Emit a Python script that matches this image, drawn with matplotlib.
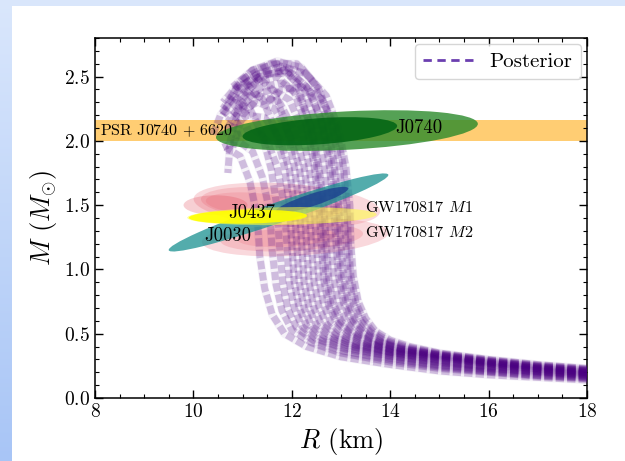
import numpy as np
import matplotlib
matplotlib.use("Agg")
import matplotlib.pyplot as plt
from matplotlib.patches import Ellipse, Rectangle
from matplotlib.lines import Line2D
from matplotlib.transforms import Affine2D
from matplotlib.ticker import MultipleLocator

# ---------------------------------------------------------------- data
# posterior M-R curves (R in km, M in Msun),
# each one starts at the low-mass tail (R = 18 km)
post_R = [
    [18.0, 17.0, 16.0, 15.0, 14.4, 14.0, 13.7, 13.5, 13.35, 13.25, 13.2, 13.18, 13.1, 12.95, 12.7, 12.3, 11.8, 11.3, 10.9],
    [18.0, 17.0, 16.0, 15.0, 14.35, 13.95, 13.65, 13.45, 13.3, 13.2, 13.15, 13.12, 13.05, 12.9, 12.6, 12.2, 11.8, 11.5],
    [18.0, 17.0, 16.0, 15.0, 14.3, 13.9, 13.6, 13.4, 13.25, 13.15, 13.1, 13.05, 12.95, 12.8, 12.55, 12.2, 11.7, 11.2, 10.8],
    [18.0, 17.0, 16.0, 15.0, 14.25, 13.8, 13.5, 13.3, 13.15, 13.05, 13.0, 12.95, 12.85, 12.7, 12.45, 12.1, 11.6, 11.0, 10.6],
    [18.0, 17.0, 16.0, 15.0, 14.2, 13.75, 13.45, 13.25, 13.1, 13.0, 12.95, 12.9, 12.8, 12.6, 12.3, 11.9, 11.4, 10.9, 10.55, 10.4],
    [18.0, 17.0, 16.0, 15.0, 14.2, 13.7, 13.4, 13.2, 13.05, 12.95, 12.9, 12.85, 12.75, 12.6, 12.35, 12.0, 11.5, 11.1],
    [18.0, 17.0, 16.0, 15.0, 14.15, 13.65, 13.3, 13.1, 12.95, 12.85, 12.8, 12.75, 12.65, 12.5, 12.25, 11.85, 11.35, 10.95, 10.75, 10.7],
    [18.0, 17.0, 16.0, 15.0, 14.1, 13.6, 13.25, 13.0, 12.85, 12.75, 12.7, 12.65, 12.55, 12.4, 12.15, 11.8, 11.4, 11.0, 10.7],
    [18.0, 17.0, 16.0, 15.0, 14.1, 13.55, 13.2, 12.95, 12.8, 12.7, 12.65, 12.6, 12.5, 12.35, 12.1, 11.7, 11.2, 10.85, 10.6],
    [18.0, 17.0, 16.0, 15.0, 14.05, 13.5, 13.15, 12.9, 12.75, 12.65, 12.6, 12.55, 12.45, 12.3, 12.05, 11.7, 11.3, 10.9],
    [18.0, 17.0, 16.0, 15.0, 14.0, 13.4, 13.05, 12.8, 12.65, 12.55, 12.5, 12.45, 12.35, 12.2, 11.95, 11.6, 11.2, 10.8],
    [18.0, 17.0, 16.0, 15.0, 14.0, 13.35, 12.95, 12.7, 12.55, 12.45, 12.4, 12.35, 12.25, 12.05, 11.75, 11.35, 11.0, 10.8],
    [18.0, 17.0, 16.0, 15.0, 14.0, 13.3, 12.9, 12.6, 12.45, 12.35, 12.3, 12.25, 12.15, 11.95, 11.65, 11.3, 10.9, 10.6],
    [18.0, 17.0, 16.0, 15.0, 14.0, 13.25, 12.8, 12.5, 12.35, 12.25, 12.2, 12.15, 12.05, 11.9, 11.65, 11.3, 10.9, 10.6],
    [18.0, 17.0, 16.0, 15.0, 14.0, 13.2, 12.7, 12.4, 12.25, 12.15, 12.1, 12.05, 11.95, 11.75, 11.45, 11.1, 10.75],
    [18.0, 17.0, 16.0, 15.0, 14.0, 13.15, 12.6, 12.3, 12.15, 12.05, 12.0, 11.95, 11.85, 11.65, 11.4, 11.1, 10.8],
    [18.0, 17.0, 16.0, 15.0, 14.0, 13.1, 12.5, 12.2, 12.05, 11.95, 11.9, 11.85, 11.7, 11.5, 11.2, 10.9],
    [18.0, 17.0, 16.0, 15.0, 14.0, 13.05, 12.45, 12.1, 11.92, 11.82, 11.75, 11.7, 11.58, 11.4, 11.15, 10.85, 10.6],
    [18.0, 17.0, 16.0, 15.0, 14.0, 13.0, 12.4, 12.0, 11.8, 11.68, 11.6, 11.55, 11.4, 11.2, 10.9, 10.6],
    [18.0, 17.0, 16.0, 15.0, 14.0, 13.0, 12.3, 11.85, 11.6, 11.45, 11.35, 11.3, 11.15, 10.95, 10.65],
]
post_M = [
    [0.23, 0.26, 0.30, 0.35, 0.40, 0.45, 0.52, 0.62, 0.75, 0.95, 1.2, 1.5, 1.8, 2.1, 2.35, 2.52, 2.58, 2.52, 2.4],
    [0.225, 0.255, 0.295, 0.345, 0.395, 0.445, 0.515, 0.61, 0.745, 0.95, 1.2, 1.5, 1.8, 2.1, 2.33, 2.42, 2.4, 2.3],
    [0.22, 0.25, 0.29, 0.34, 0.39, 0.44, 0.51, 0.60, 0.74, 0.95, 1.2, 1.5, 1.85, 2.15, 2.4, 2.57, 2.62, 2.55, 2.42],
    [0.215, 0.245, 0.285, 0.335, 0.385, 0.44, 0.51, 0.60, 0.74, 0.95, 1.2, 1.5, 1.85, 2.18, 2.45, 2.6, 2.6, 2.48, 2.3],
    [0.212, 0.242, 0.282, 0.332, 0.383, 0.44, 0.51, 0.60, 0.74, 0.95, 1.2, 1.5, 1.85, 2.17, 2.42, 2.55, 2.52, 2.38, 2.2, 2.05],
    [0.21, 0.24, 0.28, 0.33, 0.38, 0.44, 0.51, 0.60, 0.74, 0.95, 1.2, 1.5, 1.85, 2.15, 2.4, 2.53, 2.52, 2.42],
    [0.205, 0.235, 0.275, 0.325, 0.375, 0.435, 0.505, 0.60, 0.735, 0.94, 1.2, 1.5, 1.83, 2.13, 2.4, 2.55, 2.5, 2.3, 2.0, 1.75],
    [0.20, 0.23, 0.27, 0.32, 0.37, 0.43, 0.50, 0.60, 0.73, 0.93, 1.2, 1.5, 1.8, 2.1, 2.35, 2.45, 2.42, 2.3, 2.15],
    [0.198, 0.228, 0.268, 0.315, 0.368, 0.428, 0.498, 0.592, 0.725, 0.925, 1.2, 1.5, 1.83, 2.15, 2.45, 2.6, 2.55, 2.4, 2.2],
    [0.195, 0.225, 0.265, 0.31, 0.365, 0.425, 0.495, 0.59, 0.72, 0.92, 1.2, 1.5, 1.82, 2.12, 2.38, 2.5, 2.46, 2.32],
    [0.19, 0.22, 0.26, 0.30, 0.36, 0.42, 0.49, 0.58, 0.72, 0.92, 1.2, 1.5, 1.8, 2.1, 2.32, 2.4, 2.35, 2.2],
    [0.185, 0.215, 0.25, 0.295, 0.355, 0.415, 0.485, 0.575, 0.71, 0.91, 1.2, 1.5, 1.8, 2.08, 2.3, 2.35, 2.2, 1.95],
    [0.18, 0.21, 0.24, 0.29, 0.35, 0.41, 0.48, 0.57, 0.70, 0.90, 1.2, 1.5, 1.8, 2.05, 2.25, 2.3, 2.22, 2.05],
    [0.175, 0.205, 0.235, 0.28, 0.34, 0.405, 0.475, 0.565, 0.70, 0.90, 1.2, 1.5, 1.8, 2.1, 2.38, 2.5, 2.42, 2.25],
    [0.17, 0.20, 0.23, 0.27, 0.33, 0.40, 0.47, 0.56, 0.70, 0.90, 1.2, 1.5, 1.78, 2.02, 2.18, 2.2, 2.1],
    [0.165, 0.19, 0.22, 0.26, 0.32, 0.39, 0.465, 0.56, 0.70, 0.90, 1.2, 1.5, 1.8, 2.1, 2.33, 2.4, 2.3],
    [0.16, 0.18, 0.21, 0.25, 0.31, 0.38, 0.46, 0.56, 0.70, 0.90, 1.2, 1.5, 1.8, 2.0, 2.1, 2.05],
    [0.155, 0.175, 0.205, 0.24, 0.295, 0.365, 0.445, 0.545, 0.69, 0.89, 1.18, 1.48, 1.78, 2.05, 2.25, 2.3, 2.2],
    [0.15, 0.17, 0.20, 0.23, 0.28, 0.35, 0.43, 0.53, 0.68, 0.88, 1.15, 1.45, 1.72, 1.92, 2.0, 1.95],
    [0.14, 0.16, 0.18, 0.21, 0.26, 0.32, 0.40, 0.50, 0.65, 0.85, 1.1, 1.4, 1.68, 1.88, 1.95],
]

# PSR J0740+6620 mass band
psr_band = [2.0, 2.16]

# credible regions drawn as ellipses: centre R, centre M,
# long axis (km), short axis (km-equivalent on screen), tilt (deg on screen)
j0740_R = [13.12, 12.57]
j0740_M = [2.08, 2.075]
j0740_w = [5.33, 3.15]
j0740_h = [0.78, 0.53]
j0740_ang = [3.0, 4.0]

gw1_R = [11.9, 11.6, 11.2]
gw1_M = [1.50, 1.51, 1.51]
gw1_w = [3.8, 2.9, 1.9]
gw1_h = [0.88, 0.66, 0.45]
gw1_ang = [-4.0, -4.0, -4.0]

gw2_R = [12.07, 12.0, 11.9]
gw2_M = [1.25, 1.25, 1.25]
gw2_w = [3.8, 2.9, 2.0]
gw2_h = [0.75, 0.56, 0.38]
gw2_ang = [3.0, 3.0, 3.0]

j0030_R = [11.73, 12.41]
j0030_M = [1.443, 1.54]
j0030_w = [4.72, 1.55]
j0030_h = [0.42, 0.25]
j0030_ang = [19.0, 18.0]

j0437_R = [11.8, 11.11]
j0437_M = [1.415, 1.41]
j0437_w = [3.85, 2.4]
j0437_h = [0.36, 0.28]
j0437_ang = [1.0, 1.0]

# ---------------------------------------------------------------- style
plt.rcParams.update({
    "font.family": "cmr10",
    "mathtext.fontset": "cm",
    "axes.formatter.use_mathtext": True,
    "axes.unicode_minus": False,
})

fig = plt.figure(figsize=(6.25, 4.61), dpi=100)

# light blue slide frame behind the plot
bg = fig.add_axes([0, 0, 1, 1], zorder=-10)
grad = np.linspace(0, 1, 256)[:, None]
bg.imshow(grad, extent=[0, 1, 0, 1], aspect="auto",
          cmap=matplotlib.colors.LinearSegmentedColormap.from_list(
              "frame", ["#dae7fc", "#a8c5f6"]))
bg.add_patch(Rectangle((12 / 625, 0), 1, 1 - 6 / 461, color="white", lw=0))
bg.set_xlim(0, 1)
bg.set_ylim(0, 1)
bg.axis("off")

ax = fig.add_axes([95 / 625, 63 / 461, 492 / 625, 360 / 461])
ax.set_xlim(8, 18)
ax.set_ylim(0, 2.8)

# screen aspect so that ellipse tilts are screen angles
pos = ax.get_position()
k = (pos.height * 461 / 2.8) / (pos.width * 625 / 10.0)
tr = Affine2D().scale(1, 1 / k) + ax.transData


def ellipses(Rs, Ms, ws, hs, angs, color, alpha, z):
    for R, M, w, h, a in zip(Rs, Ms, ws, hs, angs):
        ax.add_patch(Ellipse((R, M * k), w, h, angle=a, transform=tr,
                             facecolor=color, edgecolor="none",
                             alpha=alpha, zorder=z))


ax.axhspan(psr_band[0], psr_band[1], color="orange", alpha=0.55, lw=0, zorder=1)

ellipses(gw1_R, gw1_M, gw1_w, gw1_h, gw1_ang, "#ee7f8c", 0.3, 2)
ellipses(gw2_R, gw2_M, gw2_w, gw2_h, gw2_ang, "#ee7f8c", 0.3, 2)
ax.add_patch(Ellipse((10.45, 1.50 * k), 1.3, 0.4, transform=tr,
                     facecolor="#e04050", edgecolor="none", alpha=0.25, zorder=2))

for R, M in zip(post_R, post_M):
    # faint continuous haze plus the dashed strokes
    ax.plot(R, M, color="indigo", lw=6, alpha=0.05, solid_capstyle="butt",
            zorder=3)
    ax.plot(R, M, color="indigo", lw=5, alpha=0.22, dashes=(1.2, 0.45),
            zorder=3)

ellipses(j0030_R[:1], j0030_M[:1], j0030_w[:1], j0030_h[:1], j0030_ang[:1],
         "#1a9090", 0.75, 4)
ellipses(j0030_R[1:], j0030_M[1:], j0030_w[1:], j0030_h[1:], j0030_ang[1:],
         "#1c3f8f", 0.8, 4.1)
ellipses(j0437_R[:1], j0437_M[:1], j0437_w[:1], j0437_h[:1], j0437_ang[:1],
         "#ffff40", 0.55, 5)
ellipses(j0437_R[1:], j0437_M[1:], j0437_w[1:], j0437_h[1:], j0437_ang[1:],
         "yellow", 0.9, 5.1)
ellipses(j0740_R[:1], j0740_M[:1], j0740_w[:1], j0740_h[:1], j0740_ang[:1],
         "#2a8a2a", 0.8, 6)
ellipses(j0740_R[1:], j0740_M[1:], j0740_w[1:], j0740_h[1:], j0740_ang[1:],
         "#006414", 0.85, 6.1)

# labels
ax.text(8.1, 2.08, r"PSR J0740 $+$ 6620", fontsize=11.5, va="center", zorder=8)
ax.text(14.1, 2.1, "J0740", fontsize=13.5, va="center", zorder=8)
ax.text(10.7, 1.44, "J0437", fontsize=13.5, va="center", zorder=8)
ax.text(10.22, 1.26, "J0030", fontsize=13.5, va="center", zorder=8)
ax.text(13.49, 1.485, r"GW170817 $M1$", fontsize=11.7, va="center", zorder=8)
ax.text(13.49, 1.29, r"GW170817 $M2$", fontsize=11.7, va="center", zorder=8)

handle = Line2D([], [], color="#6b3fb0", lw=2, ls=(0, (3, 2)))
ax.legend([handle], ["Posterior"], loc="upper right", fontsize=15,
          handlelength=2.4, borderaxespad=0.3)

ax.set_xlabel(r"$R$ (km)", fontsize=19)
ax.set_ylabel(r"$M$ ($M_{\odot}$)", fontsize=19)

ax.xaxis.set_major_locator(MultipleLocator(2))
ax.xaxis.set_minor_locator(MultipleLocator(0.5))
ax.yaxis.set_major_locator(MultipleLocator(0.5))
ax.yaxis.set_minor_locator(MultipleLocator(0.1))
ax.tick_params(which="both", direction="in", top=True, right=True,
               labelsize=14)
ax.tick_params(which="major", length=6, width=1)
ax.tick_params(which="minor", length=3, width=0.8)
for s in ax.spines.values():
    s.set_linewidth(1.1)

fig.savefig("out.png", dpi=100)
